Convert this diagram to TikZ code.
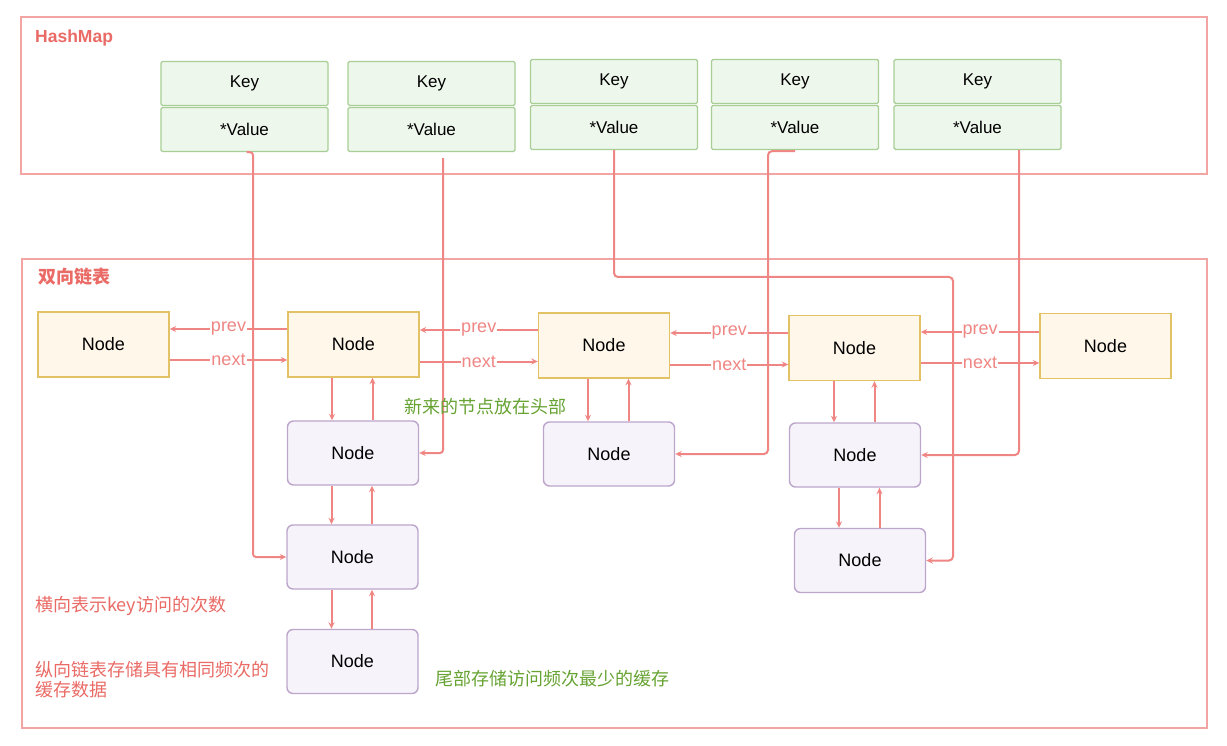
\documentclass[tikz,border=0pt]{standalone}
\usepackage{fontspec}
\setmainfont{Liberation Sans}
\newfontfamily\cjk{Noto Sans CJK SC}
\usetikzlibrary{arrows.meta,calc}
\definecolor{frm}{HTML}{F3A5A3}
\definecolor{arrc}{HTML}{EF8683}
\definecolor{txtr}{HTML}{EA6B66}
\definecolor{txtg}{HTML}{66A332}
\definecolor{gfill}{HTML}{EEF7EC}
\definecolor{gdraw}{HTML}{A6CE95}
\definecolor{ofill}{HTML}{FFF7EA}
\definecolor{odraw}{HTML}{E3C266}
\definecolor{pfill}{HTML}{F7F3FA}
\definecolor{pdraw}{HTML}{BCA6CC}
\newcommand\myvlink[3]{%
  \coordinate (#3d) at ([xshift=-21pt]#2.north);
  \coordinate (#3u) at ([xshift=19.5pt]#2.north);
  \draw[arr] (#3d |- #1.south) -- (#3d);
  \draw[arr] (#3u) -- (#3u |- #1.south);}
\newcommand\myhlink[5]{%
  \coordinate (#5p) at ([yshift=#3pt]#2.west);
  \coordinate (#5n) at ([yshift=-#4pt]#2.west);
  \draw[arr] (#5p) -- (#5p -| #1.east) node[lbl,midway]{prev};
  \draw[arr] (#5n -| #1.east) -- (#5n) node[lbl,midway]{next};}
\begin{document}
\begin{tikzpicture}[x=1pt,y=-1pt,
  frame/.style={draw=frm,line width=1.6pt},
  kv/.style={draw=gdraw,fill=gfill,line width=1.4pt,rounded corners=1.5pt,minimum width=167pt,minimum height=44pt,inner sep=0pt,font=\fontsize{17}{20}\selectfont},
  onode/.style={draw=odraw,fill=ofill,line width=1.4pt,minimum width=131pt,minimum height=65pt,inner sep=0pt,font=\fontsize{18}{21}\selectfont},
  pnode/.style={draw=pdraw,fill=pfill,line width=1.4pt,rounded corners=6pt,minimum width=131pt,minimum height=64pt,inner sep=0pt,font=\fontsize{18}{21}\selectfont},
  arr/.style={draw=arrc,line width=2pt,-{Stealth[length=6.5pt,width=6pt]}},
  lbl/.style={fill=white,text=arrc,inner sep=1pt,font=\fontsize{18}{21}\selectfont},
  ttl/.style={text=txtr,anchor=west,inner sep=0pt},
  note/.style={font=\cjk\fontsize{18}{20}\selectfont,anchor=west,inner sep=0pt,align=left}
]
\useasboundingbox (0,0) rectangle (1227,746);
\fill[white] (0,0) rectangle (1227,746);
% frames
\draw[frame] (21,17) rectangle (1207,174);
\draw[frame] (22,259) rectangle (1207,728);
\node[ttl,font=\bfseries\fontsize{17.5}{20}\selectfont] (t1) at (35,38) {HashMap};
\node[ttl,font=\cjk\bfseries\fontsize{18}{21}\selectfont] (t2) at (38,277) {双向链表};
% hashmap entries
\node[kv] (K1) at (244.5,83.5) {Key};
\node[kv] (V1) at (244.5,129.5) {*Value};
\node[kv] (K2) at (431.5,83.5) {Key};
\node[kv] (V2) at (431.5,129.5) {*Value};
\node[kv] (K3) at (614,81.5) {Key};
\node[kv] (V3) at (614,127.5) {*Value};
\node[kv] (K4) at (795,81.5) {Key};
\node[kv] (V4) at (795,127.5) {*Value};
\node[kv] (K5) at (977.5,81.5) {Key};
\node[kv] (V5) at (977.5,127.5) {*Value};
% top list
\node[onode] (N1) at (103.5,344.5) {Node};
\node[onode] (N2) at (353.5,344.5) {Node};
\node[onode] (N3) at (604,345.5) {Node};
\node[onode] (N4) at (854.5,348) {Node};
\node[onode] (N5) at (1105.5,346) {Node};
% vertical lists
\node[pnode] (P21) at (353,453) {Node};
\node[pnode] (P22) at (352.5,557) {Node};
\node[pnode] (P23) at (352.5,661.5) {Node};
\node[pnode] (P3) at (609,454) {Node};
\node[pnode] (P41) at (855,455) {Node};
\node[pnode] (P42) at (860,560.5) {Node};
% horizontal links
\myhlink{N1}{N2}{15.5}{15.5}{h1}
\myhlink{N2}{N3}{15.5}{16}{h2}
\myhlink{N3}{N4}{15}{16.5}{h3}
\myhlink{N4}{N5}{14}{17}{h4}
% vertical links
\myvlink{N2}{P21}{a1}
\myvlink{P21}{P22}{a2}
\myvlink{P22}{P23}{a3}
\myvlink{N3}{P3}{a4}
\myvlink{N4}{P41}{a5}
\myvlink{P41}{P42}{a6}
% pointers
\coordinate (v1a) at ([xshift=2pt]V1.south);
\coordinate (v1b) at ([xshift=8.5pt]V1.south);
\draw[arr,rounded corners=3pt] (v1a) -- (v1b) -- (v1b |- P22.west) -- (P22.west);
\coordinate (v2a) at ([xshift=11.5pt,yshift=-6pt]V2.south);
\draw[arr,rounded corners=3pt] (v2a) -- (v2a |- P21.east) -- (P21.east);
\coordinate (c3) at (953,277);
\draw[arr,rounded corners=4pt] (V3.south) |- (c3) |- (P42.east);
\coordinate (v4a) at ([yshift=-1pt]V4.south);
\coordinate (v4b) at ([xshift=-27pt]V4.south);
\draw[arr,rounded corners=4pt] (v4a) -| (v4b |- P3.east) -- (P3.east);
\coordinate (v5a) at ([xshift=41.5pt]V5.south);
\draw[arr,rounded corners=4pt] (v5a) |- (P41.east);
% notes
\node[note,text=txtg] (n1) at (404,407) {新来的节点放在头部};
\node[note,text=txtr] (n2) at (35,606) {横向表示key访问的次数};
\node[note,text=txtr] (n3) at (35,680) {纵向链表存储具有相同频次的\\缓存数据};
\node[note,text=txtg] (n4) at (435,679) {尾部存储访问频次最少的缓存};
\end{tikzpicture}
\end{document}
